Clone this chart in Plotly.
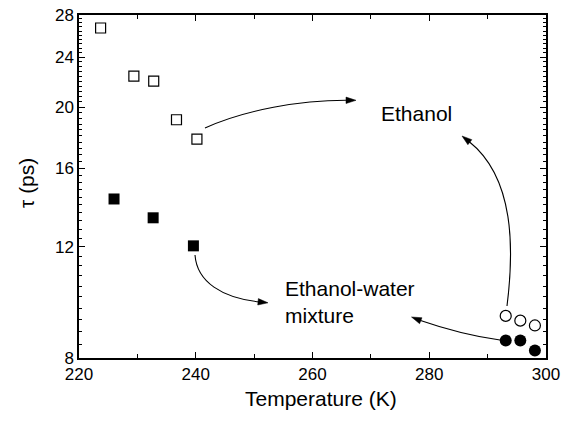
import math
import numpy as np
import plotly.graph_objects as go

# ---- data ----
eth_T = [223.7, 229.4, 232.8, 236.7, 240.2]
eth_tau = [26.7, 22.4, 22.0, 19.1, 17.8]
mix_T = [226.0, 232.7, 239.6]
mix_tau = [14.3, 13.35, 12.05]
eth_rt_T = [293.1, 295.6, 298.1]
eth_rt_tau = [9.33, 9.17, 9.01]
mix_rt_T = [293.1, 295.6, 298.1]
mix_rt_tau = [8.53, 8.53, 8.22]

x_ticks = [220, 240, 260, 280, 300]
x_minor = [230, 250, 270, 290]
y_ticks = [8, 12, 16, 20, 24, 28]
y_minor = [round(8 + 0.4 * i, 2) for i in range(51)]

# ---- layout geometry ----
W, H = 561, 421
ML, MR, MT, MB = 79, 15, 15, 63
PW, PH = W - ML - MR, H - MT - MB
FONT = "Liberation Sans, Arial, Helvetica, sans-serif"


def pp(px, py):
    """pixel -> paper fraction"""
    return (px - ML) / PW, (H - MB - py) / PH


fig = go.Figure()

mk_line = dict(color="black", width=1.2)
fig.add_trace(go.Scatter(x=eth_T, y=eth_tau, mode="markers",
                         marker=dict(symbol="square-open", size=10, color="black", line=mk_line)))
fig.add_trace(go.Scatter(x=mix_T, y=mix_tau, mode="markers",
                         marker=dict(symbol="square", size=11, color="black", line=dict(width=0))))
fig.add_trace(go.Scatter(x=eth_rt_T, y=eth_rt_tau, mode="markers",
                         marker=dict(symbol="circle-open", size=11, color="black", line=mk_line)))
fig.add_trace(go.Scatter(x=mix_rt_T, y=mix_rt_tau, mode="markers",
                         marker=dict(symbol="circle", size=12, color="black", line=dict(width=0))))

# ---- curved arrows (pixel control points) ----
curves = [
    ([(205, 128), (245, 110), (300, 100), (348, 100.3)], (356, 100.3)),
    ([(195, 255), (197, 282), (222, 298), (260, 302)], (268, 302.8)),
    ([(507, 306), (514, 250), (515, 178), (469, 141.5)], (462, 136)),
    ([(500, 340), (470, 336), (445, 329), (419, 320)], (411.5, 317)),
]
shapes = []
for pts, tip in curves:
    p = [pp(*q) for q in pts]
    path = "M {},{} C {},{} {},{} {},{}".format(*[c for q in p for c in q])
    shapes.append(dict(type="path", xref="paper", yref="paper", path=path,
                       line=dict(color="black", width=1.1)))
    dx, dy = tip[0] - pts[-1][0], tip[1] - pts[-1][1]
    n = math.hypot(dx, dy)
    ux, uy = dx / n, dy / n
    bx, by = tip[0] - 10 * ux, tip[1] - 10 * uy
    nx, ny = -uy, ux
    v1 = pp(*tip)
    v2 = pp(bx + 3.2 * nx, by + 3.2 * ny)
    v3 = pp(bx - 3.2 * nx, by - 3.2 * ny)
    shapes.append(dict(type="path", xref="paper", yref="paper",
                       path="M {},{} L {},{} L {},{} Z".format(*v1, *v2, *v3),
                       fillcolor="black", line=dict(color="black", width=0.5)))

annotations = []


def txt(px, py, text, xanchor="center", align="center", angle=0):
    x, y = pp(px, py)
    annotations.append(dict(x=x, y=y, xref="paper", yref="paper", text=text,
                            showarrow=False, xanchor=xanchor, yanchor="middle",
                            align=align, textangle=angle,
                            font=dict(size=21, color="black", family=FONT)))


txt(416.7, 113, "Ethanol")
txt(283, 302, "Ethanol-water<br>mixture", xanchor="left", align="left")
txt(321, 398, "Temperature (K)")
txt(26, 183, "τ (ps)", angle=-90)

axis_common = dict(showline=True, linecolor="black", linewidth=1.5, mirror="ticks",
                   ticks="inside", ticklen=6, tickwidth=1.2, tickcolor="black",
                   showgrid=False, zeroline=False, ticklabeloverflow="allow",
                   automargin=False,
                   tickfont=dict(size=17, color="black", family=FONT))

fig.update_layout(
    width=W, height=H,
    margin=dict(l=ML, r=MR, t=MT, b=MB, autoexpand=False),
    paper_bgcolor="white", plot_bgcolor="white",
    showlegend=False,
    shapes=shapes, annotations=annotations,
    xaxis=dict(range=[220, 300], tickmode="array", tickvals=x_ticks,
               ticktext=[str(v) for v in x_ticks],
               minor=dict(tickmode="array", tickvals=x_minor, ticks="inside", ticklen=4,
                          tickwidth=1.1, tickcolor="black"),
               **axis_common),
    yaxis=dict(type="log", range=[math.log10(8), math.log10(28)], tickmode="array",
               tickvals=y_ticks, ticktext=[str(v) for v in y_ticks],
               minor=dict(tickmode="array", tickvals=y_minor, ticks="inside", ticklen=3,
                          tickwidth=1, tickcolor="black"),
               **axis_common),
)

fig.write_html("out.html")
